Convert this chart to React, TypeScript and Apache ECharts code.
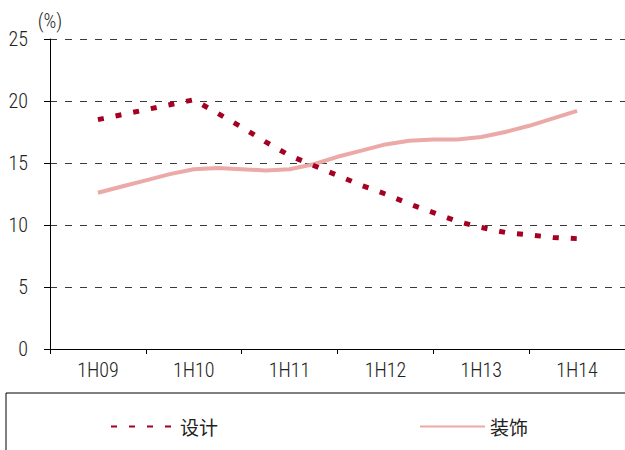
import React, { useEffect, useRef } from "react";
import * as echarts from "echarts";

const categories = ["1H09", "1H10", "1H11", "1H12", "1H13", "1H14"];
const periods = [
  "1H09", "3Q09", "FY09", "1Q10",
  "1H10", "3Q10", "FY10", "1Q11",
  "1H11", "3Q11", "FY11", "1Q12",
  "1H12", "3Q12", "FY12", "1Q13",
  "1H13", "3Q13", "FY13", "1Q14",
  "1H14",
];
const designValues = [
  18.5, 18.9, 19.3, 19.7,
  20.1, 19.0, 17.9, 16.7,
  15.6, 14.8, 14.0, 13.2,
  12.5, 11.7, 11.0, 10.3,
  9.8, 9.4, 9.2, 9.0,
  8.9,
];
const decorValues = [
  12.6, 13.1, 13.6, 14.1,
  14.5, 14.6, 14.5, 14.4,
  14.5, 14.9, 15.5, 16.0,
  16.5, 16.8, 16.9, 16.9,
  17.1, 17.5, 18.0, 18.6,
  19.2,
];
const yTicks = [0, 5, 10, 15, 20, 25];
const seriesNames = ["设计", "装饰"];

const NARROW = "'Roboto Condensed', 'Liberation Sans Narrow', 'Liberation Sans', sans-serif";
const CJK = "'Noto Sans CJK SC', sans-serif";

export default function App() {
  const ref = useRef<HTMLDivElement>(null);
  useEffect(() => {
    if (!ref.current) return;
    const chart = echarts.init(ref.current, undefined, { renderer: "svg" });
    const toPoints = (vals: number[]) =>
      vals.map((v, i) => [(i * (categories.length - 1)) / (periods.length - 1), v]);
    chart.setOption({
      animation: false,
      backgroundColor: "#ffffff",
      grid: { left: 50, right: -4, top: 39, bottom: 101, containLabel: false },
      xAxis: [
        {
          type: "category",
          data: categories,
          boundaryGap: true,
          axisLine: { show: true, onZero: false, lineStyle: { color: "#000", width: 1 } },
          axisTick: { show: true, length: 5, lineStyle: { color: "#000" } },
          axisLabel: { color: "#222", fontFamily: NARROW, fontWeight: 300, fontSize: 20, margin: 11 },
          splitLine: { show: false },
        },
        {
          type: "value",
          min: -0.5,
          max: categories.length - 0.5,
          show: false,
          splitLine: { show: false },
        },
      ],
      yAxis: {
        type: "value",
        min: yTicks[0],
        max: yTicks[yTicks.length - 1],
        interval: 5,
        name: "(%)",
        nameLocation: "end",
        nameGap: 8,
        nameTextStyle: { color: "#222", fontFamily: NARROW, fontWeight: 300, fontSize: 20, align: "center" },
        axisLine: { show: true, onZero: false, lineStyle: { color: "#000", width: 1 } },
        axisTick: { show: true, length: 6, lineStyle: { color: "#000" } },
        axisLabel: { color: "#222", fontFamily: NARROW, fontWeight: 300, fontSize: 20, margin: 22 },
        splitLine: { show: true, lineStyle: { color: "#3a3a3a", width: 1, type: [7, 8] } },
      },
      legend: [
        {
          data: [seriesNames[0]],
          left: 105,
          top: 412,
          itemWidth: 64,
          itemHeight: 14,
          itemStyle: { opacity: 0 },
          textStyle: { fontFamily: CJK, fontSize: 19, color: "#222" },
        },
        {
          data: [seriesNames[1]],
          left: 414,
          top: 412,
          itemWidth: 65,
          itemHeight: 14,
          itemStyle: { opacity: 0 },
          textStyle: { fontFamily: CJK, fontSize: 19, color: "#222" },
        },
      ],
      graphic: [
        {
          type: "rect",
          shape: { x: 6, y: 393, width: 640, height: 80 },
          style: { fill: "none", stroke: "#000", lineWidth: 1 },
          silent: true,
        },
      ],
      series: [
        {
          name: seriesNames[0],
          type: "line",
          xAxisIndex: 1,
          data: toPoints(designValues),
          showSymbol: false,
          lineStyle: { color: "#A50021", width: 5, type: [6, 12], cap: "butt" },
          itemStyle: { color: "#A50021" },
          z: 3,
        },
        {
          name: seriesNames[1],
          type: "line",
          xAxisIndex: 1,
          data: toPoints(decorValues),
          showSymbol: false,
          lineStyle: { color: "#EBA9A8", width: 4 },
          itemStyle: { color: "#EBA9A8" },
          z: 2,
        },
      ],
    });
    return () => chart.dispose();
  }, []);
  return (
    <div
      ref={ref}
      style={{ position: "absolute", left: 0, top: 0, width: 625, height: 450, overflow: "hidden" }}
    />
  );
}
